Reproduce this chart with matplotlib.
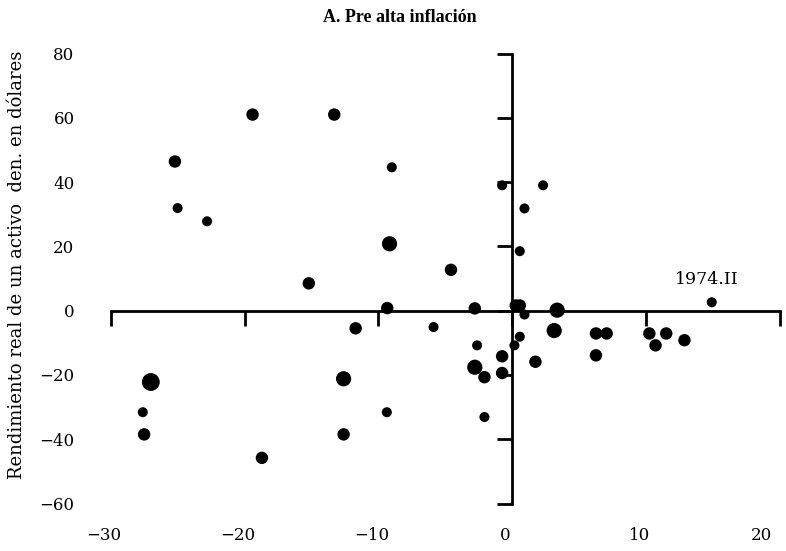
import matplotlib
matplotlib.use("Agg")
import matplotlib.pyplot as plt
from matplotlib.transforms import ScaledTranslation

# ==========================================
# Data
# ==========================================
x_vals = [-19.4, -13.3, -25.2, -9.0, -25.0, -22.8, -9.17, -15.2, -9.34, -11.7,
          -27.0, -27.6, -27.5, -12.6, -12.6, -18.7, -9.37,
          -0.76, 2.3, 0.91, 0.56, -4.58, -2.8, 0.26, 0.56, 0.91,
          3.35, -5.88, 3.13, 0.56, -2.63, 0.16, -0.76, 1.73, -2.8,
          -2.08, -0.76, -2.08,
          14.9, 6.25, 7.05, 6.25, 10.24, 11.5, 10.7, 12.86]
y_vals = [61.0, 61.0, 46.4, 44.6, 31.9, 27.8, 20.8, 8.5, 0.8, -5.5,
          -22.2, -31.6, -38.5, -21.2, -38.5, -45.8, -31.6,
          39.0, 39.0, 31.8, 18.5, 12.7, 0.7, 1.6, 1.6, -1.2,
          0.15, -5.1, -6.2, -8.1, -10.8, -10.8, -14.2, -15.9, -17.6,
          -20.7, -19.4, -33.1,
          2.6, -7.1, -7.1, -13.9, -7.1, -7.1, -10.8, -9.2]
# size class of each dot (1 = small ... 4 = largest)
size_class = [2, 2, 2, 1, 1, 1, 3, 2, 2, 2,
              4, 1, 2, 3, 2, 2, 1,
              1, 1, 1, 1, 2, 2, 2, 2, 1,
              3, 1, 3, 1, 1, 1, 2, 2, 3,
              2, 2, 1,
              1, 2, 2, 2, 2, 2, 2, 2]

x_ticks = [-30, -20, -10, 0, 10, 20]
y_ticks = [-60, -40, -20, 0, 20, 40, 60, 80]

TITLE = "A. Pre alta inflación"
Y_LABEL = "Rendimiento real de un activo  den. en dólares"
NOTE_TEXT = "1974.II"
NOTE_XY = (14.5, 9.6)

SIZE_MAP = {1: 52, 2: 80, 3: 120, 4: 165}

# ==========================================
# Plot
# ==========================================
plt.rcParams['font.family'] = ['DejaVu Serif']

fig = plt.figure(figsize=(7.86, 5.51), dpi=100)
ax = fig.add_axes([0.1408, 0.0862, 0.8516, 0.8167])

ax.scatter(x_vals, y_vals, s=[SIZE_MAP[c] for c in size_class],
           color='black', linewidths=0, zorder=3, clip_on=False)

ax.set_xlim(-30, 20)
ax.set_ylim(-60, 80)

# axes crossing at the origin
for side in ['top', 'right']:
    ax.spines[side].set_visible(False)
for side in ['left', 'bottom']:
    ax.spines[side].set_position(('data', 0))
    ax.spines[side].set_linewidth(2)
ax.set_xticks(x_ticks)
ax.set_yticks(y_ticks)
ax.tick_params(direction='out', length=11, width=2,
               labelbottom=False, labelleft=False)

# tick labels on the outer edges
secx = ax.secondary_xaxis('bottom')
secx.set_xticks(x_ticks)
secx.spines['bottom'].set_visible(False)
secx.tick_params(length=0, pad=17, labelsize=12)
shift = ScaledTranslation(-5 / 72, 0, fig.dpi_scale_trans)
xlabels = secx.get_xticklabels()
for lab in xlabels:
    lab.set_transform(lab.get_transform() + shift)
# last label sits against the right edge
xlabels[-1].set_horizontalalignment('right')
xlabels[-1].set_transform(xlabels[-1].get_transform() + ScaledTranslation(-1 / 72, 0, fig.dpi_scale_trans))

secy = ax.secondary_yaxis('left')
secy.set_yticks(y_ticks)
secy.spines['left'].set_visible(False)
secy.tick_params(length=0, pad=26, labelsize=12)

ax.text(NOTE_XY[0], NOTE_XY[1], NOTE_TEXT, ha='center', va='center', fontsize=12.5)

fig.text(0.509, 0.969, TITLE, ha='center', va='center', fontsize=13,
         fontweight='bold', family=['Liberation Serif'])
fig.text(0.022, 0.52, Y_LABEL, rotation=90, ha='center', va='center', fontsize=13)

fig.savefig("out.png", dpi=100)
